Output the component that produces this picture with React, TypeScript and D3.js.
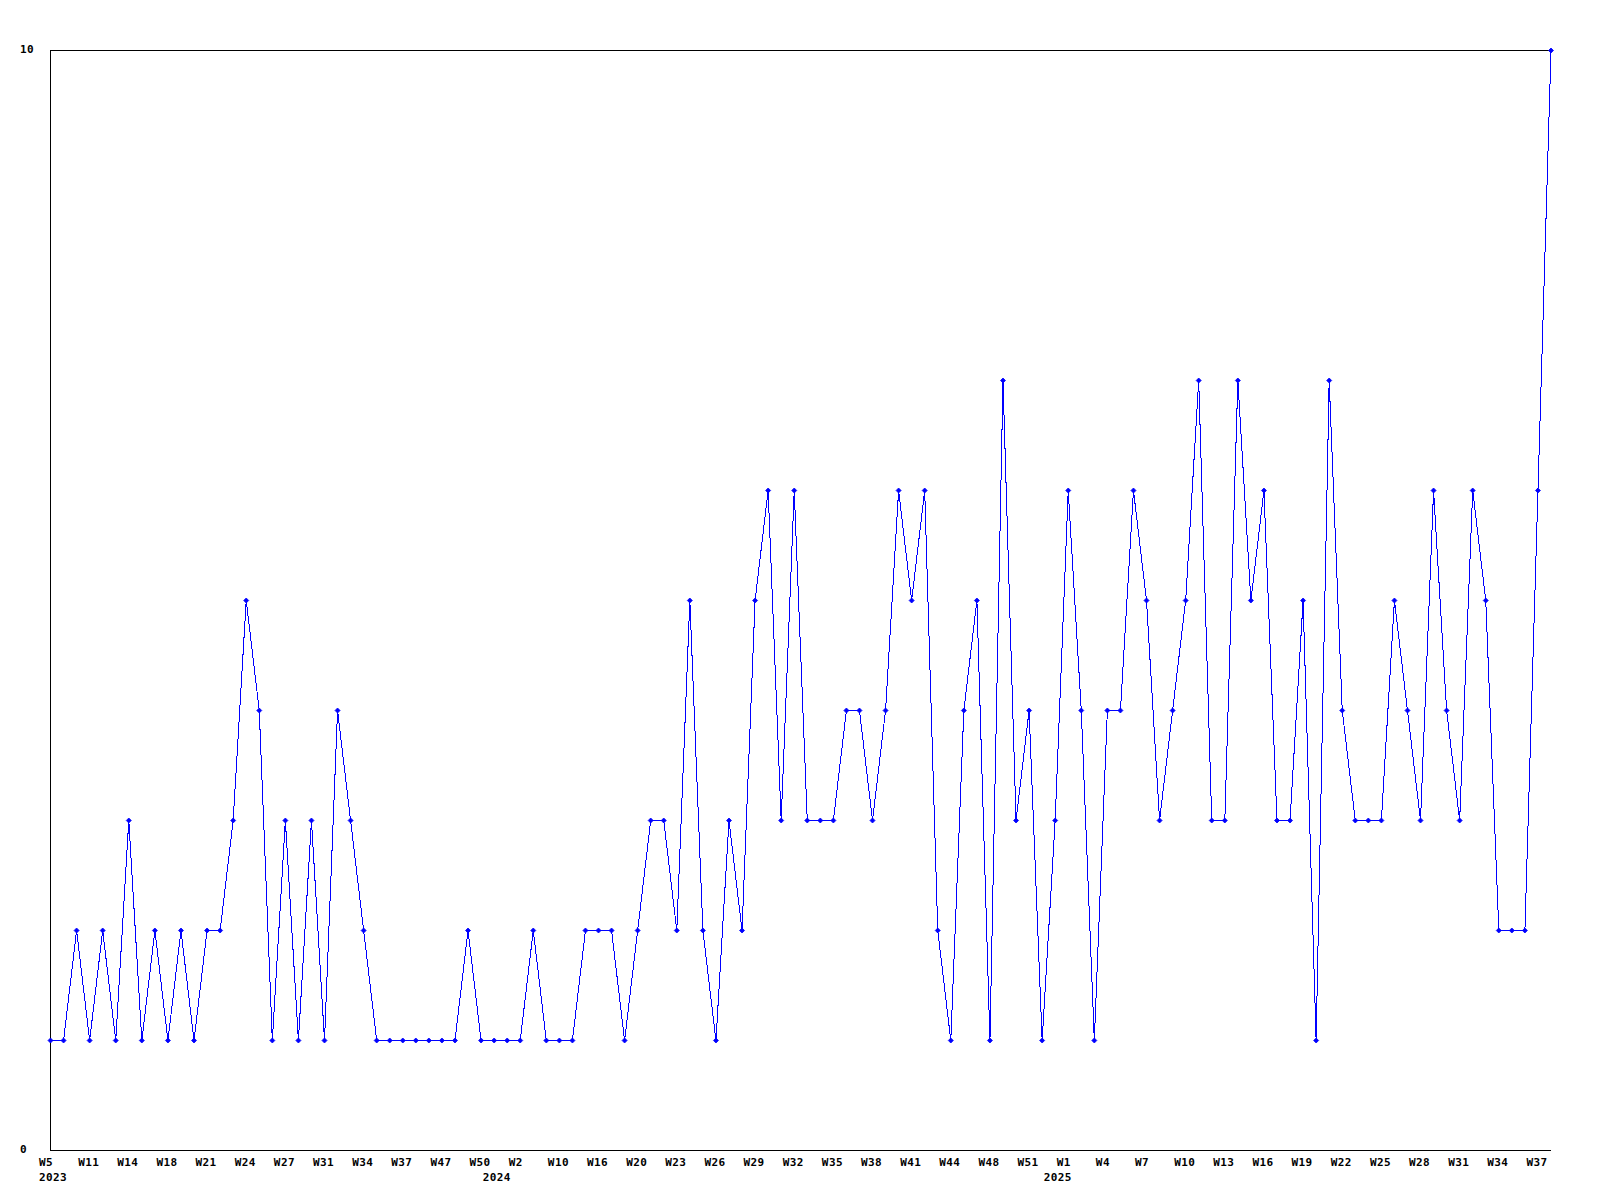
import React, { useEffect, useRef } from 'react';
import * as d3 from 'd3';

// weekly counts, 2023 W5 .. 2025 W38 (one value per week shown)
const values: number[] = [
  1, 1, 2, 1, 2, 1, 3, 1, 2, 1,
  2, 1, 2, 2, 3, 5, 4, 1, 3, 1,
  3, 1, 4, 3, 2, 1, 1, 1, 1, 1,
  1, 1, 2, 1, 1, 1, 1, 2, 1, 1,
  1, 2, 2, 2, 1, 2, 3, 3, 2, 5,
  2, 1, 3, 2, 5, 6, 3, 6, 3, 3,
  3, 4, 4, 3, 4, 6, 5, 6, 2, 1,
  4, 5, 1, 7, 3, 4, 1, 3, 6, 4,
  1, 4, 4, 6, 5, 3, 4, 5, 7, 3,
  3, 7, 5, 6, 3, 3, 5, 1, 7, 4,
  3, 3, 3, 5, 4, 3, 6, 4, 3, 6,
  5, 2, 2, 2, 6, 10,
];

// x labels, one on every third week
const tickLabels: string[] = [
  'W5', 'W11', 'W14', 'W18', 'W21', 'W24', 'W27', 'W31', 'W34', 'W37',
  'W47', 'W50', 'W2', 'W10', 'W16', 'W20', 'W23', 'W26', 'W29', 'W32',
  'W35', 'W38', 'W41', 'W44', 'W48', 'W51', 'W1', 'W4', 'W7', 'W10',
  'W13', 'W16', 'W19', 'W22', 'W25', 'W28', 'W31', 'W34', 'W37',
];
const tickEvery = 3;

// year captions and the week index they sit under
const yearLabels: string[] = ['2023', '2024', '2025'];
const yearAt: number[] = [0, 34, 77];

const yTicks: number[] = [0, 10];

const W = 1600;
const H = 1200;
const FONT = '"DejaVu Sans Mono", monospace';

const App = () => {
  const svgRef = useRef<SVGSVGElement | null>(null);

  useEffect(() => {
    const svg = d3.select(svgRef.current);
    svg.selectAll('*').remove();

    const left = 50.5;
    const right = 1551;
    const top = 50.5;
    const bottom = 1150.5;

    const idx = values.map((_, i) => i);
    const x = d3.scalePoint<number>().domain(idx).range([left, right]);
    const y = d3.scaleLinear().domain([0, 10]).range([bottom, top]);

    svg.append('rect').attr('width', W).attr('height', H).attr('fill', '#fff');

    // frame: left, top and bottom
    svg.append('path')
      .attr('d', `M${right},${top}H${left}V${bottom}H${right}`)
      .attr('fill', 'none')
      .attr('stroke', '#000')
      .attr('stroke-width', 1)
      .attr('shape-rendering', 'crispEdges');

    const label = (sel: any) => sel
      .attr('font-family', FONT)
      .attr('font-weight', 'bold')
      .attr('font-size', '11px')
      .attr('letter-spacing', '0.4px');

    // y labels
    svg.selectAll('.ylab')
      .data(yTicks)
      .enter()
      .append('text')
      .attr('class', 'ylab')
      .attr('x', 20)
      .attr('y', d => y(d) + 2.5)
      .call(label)
      .text(d => d);

    // x labels
    svg.selectAll('.xlab')
      .data(tickLabels)
      .enter()
      .append('text')
      .attr('class', 'xlab')
      .attr('x', (d, i) => (x(i * tickEvery) as number) - 11.5)
      .attr('y', bottom + 15.5)
      .call(label)
      .text(d => d);

    svg.selectAll('.year')
      .data(yearLabels)
      .enter()
      .append('text')
      .attr('class', 'year')
      .attr('x', (d, i) => (x(yearAt[i]) as number) - 11.5)
      .attr('y', bottom + 30.5)
      .call(label)
      .text(d => d);

    // data line
    const line = d3.line<number>()
      .x((d, i) => x(i) as number)
      .y(d => y(d));

    svg.append('path')
      .datum(values)
      .attr('d', line)
      .attr('fill', 'none')
      .attr('stroke', '#0000ff')
      .attr('stroke-width', 1)
      .attr('shape-rendering', 'crispEdges');

    // markers
    svg.selectAll('.mark')
      .data(values)
      .enter()
      .append('path')
      .attr('class', 'mark')
      .attr('transform', (d, i) => `translate(${x(i)},${y(d)})`)
      .attr('d', 'M0,-2.5L2.5,0L0,2.5L-2.5,0Z')
      .attr('fill', '#0000ff')
      .attr('stroke', '#0000ff')
      .attr('stroke-width', 0.8);
  }, []);

  return (
    <svg
      ref={svgRef}
      width={W}
      height={H}
      style={{ position: 'absolute', left: 0, top: 0, display: 'block' }}
    />
  );
};

export default App;
